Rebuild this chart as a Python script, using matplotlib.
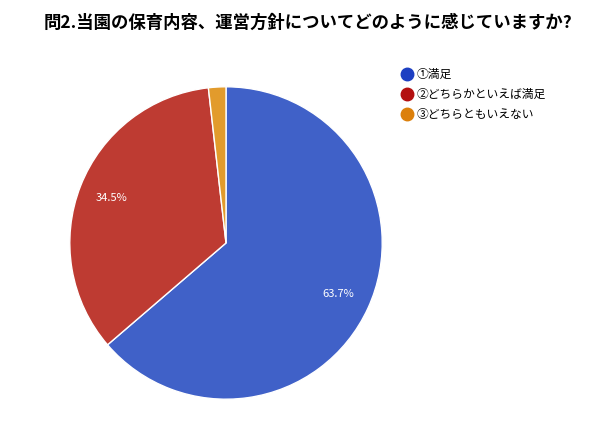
import matplotlib
matplotlib.use("Agg")
import matplotlib.pyplot as plt
from matplotlib.lines import Line2D
import numpy as np

plt.rcParams['font.family'] = ['Noto Sans CJK JP', 'DejaVu Sans']

title = "問2.当園の保育内容、運営方針についてどのように感じていますか?"
categories = ["①満足", "②どちらかといえば満足", "③どちらともいえない"]
values = [63.7, 34.5, 1.8]
labels_pct = ["63.7%", "34.5%", ""]
slice_colors = ["#4061c8", "#be3b32", "#e29b2c"]
legend_colors = ["#1d3fc2", "#b30f0f", "#dc800b"]

fig = plt.figure(figsize=(6.1, 4.3), dpi=100)
ax = fig.add_axes([0.1131, 0.0698, 0.5148, 0.7302])
wedges, texts = ax.pie(values, colors=slice_colors, startangle=90, counterclock=False,
                       wedgeprops=dict(edgecolor="white", linewidth=1))
ax.set_xlim(-1.005, 1.005)
ax.set_ylim(-1.005, 1.005)
ax.set_aspect('equal')
start = 90.0
total = sum(values)
for v, lab in zip(values, labels_pct):
    span = v / total * 360
    mid = np.deg2rad(start - span / 2)
    start -= span
    if lab:
        ax.text(0.79 * np.cos(mid), 0.79 * np.sin(mid), lab, color="white",
                ha="center", va="center", fontsize=8)

fig.text(0.505, 0.948, title, ha="center", va="center", fontsize=12.5, fontweight="bold")

handles = [Line2D([0], [0], marker='o', linestyle='', markersize=9,
                  markerfacecolor=c, markeredgecolor=c) for c in legend_colors]
fig.legend(handles, categories, loc="upper left", bbox_to_anchor=(0.648, 0.853),
           frameon=False, fontsize=8.5, handletextpad=0.2, labelspacing=0.6,
           handlelength=1.2, borderaxespad=0)

fig.savefig("out.png", dpi=100)
